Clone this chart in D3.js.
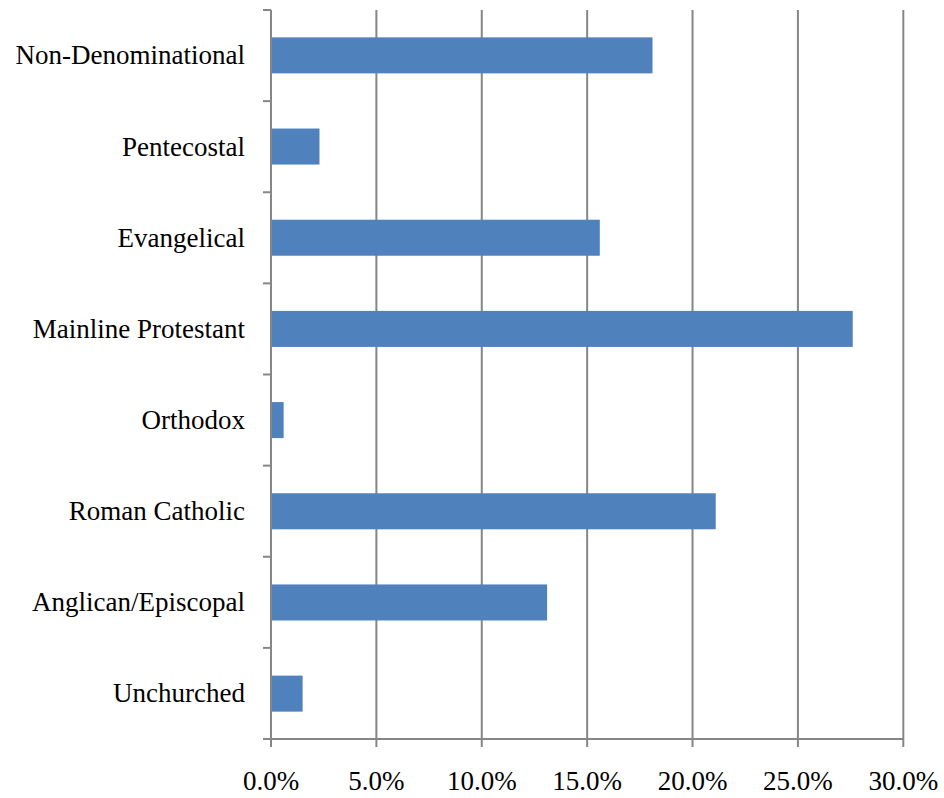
<!DOCTYPE html>
<html><head><meta charset="utf-8">
<script src="https://cdn.jsdelivr.net/npm/d3@7"></script>
<style>body{margin:0;background:#fff}svg{display:block}</style>
</head><body>
<svg id="c" width="944" height="798"></svg>
<script>
const categories = ["Non-Denominational","Pentecostal","Evangelical","Mainline Protestant","Orthodox","Roman Catholic","Anglican/Episcopal","Unchurched"];
const values = [18.1, 2.3, 15.6, 27.6, 0.6, 21.1, 13.1, 1.5];
const tickValues = [0, 5, 10, 15, 20, 25, 30];

const svg = d3.select("#c");
const m = {left: 271, right: 903.3, top: 10, bottom: 739};
const x = d3.scaleLinear().domain([0, 30]).range([m.left, m.right]);
const y = d3.scaleBand().domain(categories).range([m.top, m.bottom]).paddingInner(0.605).paddingOuter(0.3);
const yb = d3.scaleBand().domain(categories).range([m.top, m.bottom]);
const grey = "#868686";
const font = "'Liberation Serif', serif";

// gridlines
svg.append("g").selectAll("line").data(tickValues.slice(1)).join("line")
  .attr("x1", d => x(d)).attr("x2", d => x(d))
  .attr("y1", m.top).attr("y2", m.bottom + 8)
  .attr("stroke", grey).attr("stroke-width", 2);

// bars
svg.append("g").selectAll("rect").data(categories).join("rect")
  .attr("x", x(0)).attr("y", d => y(d))
  .attr("width", (d, i) => x(values[i]) - x(0))
  .attr("height", y.bandwidth())
  .attr("fill", "#4f81bd");

// y axis line + ticks
svg.append("line").attr("x1", m.left).attr("x2", m.left).attr("y1", m.top).attr("y2", m.bottom + 8)
  .attr("stroke", grey).attr("stroke-width", 2);
const yTicks = categories.map(c => yb(c)).concat([m.bottom]);
svg.append("g").selectAll("line").data(yTicks).join("line")
  .attr("x1", m.left - 8).attr("x2", m.left).attr("y1", d => d).attr("y2", d => d)
  .attr("stroke", grey).attr("stroke-width", 2);

// x axis line
svg.append("line").attr("x1", m.left - 8).attr("x2", m.right).attr("y1", m.bottom).attr("y2", m.bottom)
  .attr("stroke", grey).attr("stroke-width", 2);

// category labels
svg.append("g").selectAll("text").data(categories).join("text")
  .attr("x", 245).attr("y", d => yb(d) + yb.bandwidth() / 2)
  .attr("dy", "0.33em").attr("text-anchor", "end")
  .attr("font-family", font).attr("font-size", 27).attr("fill", "#000")
  .text(d => d);

// x tick labels
svg.append("g").selectAll("text").data(tickValues).join("text")
  .attr("x", d => x(d)).attr("y", 790)
  .attr("text-anchor", "middle")
  .attr("font-family", font).attr("font-size", 27).attr("fill", "#000")
  .text(d => d.toFixed(1) + "%");
</script>
</body></html>
